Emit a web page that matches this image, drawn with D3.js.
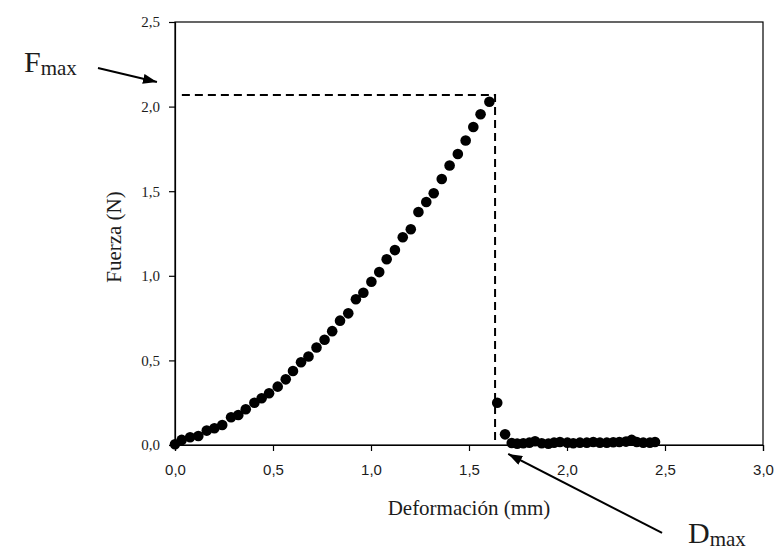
<!DOCTYPE html>
<html>
<head>
<meta charset="utf-8">
<script src="https://cdn.jsdelivr.net/npm/d3@7"></script>
<style>
  body { margin: 0; background: #fff; }
  text { fill: #1c1c1c; }
</style>
</head>
<body>
<div id="chart"></div>
<script>
// deformation (mm) and force (N)
const deformacion = [
  0.000, 0.034, 0.077, 0.119, 0.162, 0.201, 0.241, 0.286, 0.323, 0.361,
  0.405, 0.442, 0.480, 0.524, 0.565, 0.602, 0.643, 0.681, 0.722, 0.763,
  0.802, 0.842, 0.884, 0.923, 0.961, 1.002, 1.042, 1.080, 1.122, 1.162,
  1.203, 1.242, 1.282, 1.320, 1.361, 1.401, 1.443, 1.483, 1.522, 1.559,
  1.604, 1.644, 1.684,
  1.718, 1.746, 1.777, 1.808, 1.837, 1.871, 1.905, 1.934, 1.964, 2.002,
  2.032, 2.066, 2.101, 2.134, 2.168, 2.203, 2.236, 2.267, 2.301, 2.330,
  2.356, 2.389, 2.423, 2.449
]
const fuerza = [
  0.004, 0.030, 0.046, 0.053, 0.085, 0.099, 0.118, 0.164, 0.177, 0.211,
  0.250, 0.276, 0.306, 0.345, 0.388, 0.437, 0.489, 0.523, 0.576, 0.622,
  0.673, 0.735, 0.778, 0.861, 0.900, 0.965, 1.022, 1.098, 1.152, 1.228,
  1.275, 1.377, 1.436, 1.488, 1.572, 1.652, 1.720, 1.800, 1.879, 1.955,
  2.029, 0.250, 0.063,
  0.012, 0.008, 0.010, 0.014, 0.022, 0.010, 0.008, 0.014, 0.018, 0.014,
  0.010, 0.014, 0.014, 0.018, 0.014, 0.014, 0.016, 0.018, 0.020, 0.030,
  0.018, 0.014, 0.014, 0.018
]
const xTicks = [0, 0.5, 1.0, 1.5, 2.0, 2.5, 3.0]
const yTicks = [0, 0.5, 1.0, 1.5, 2.0, 2.5]

// reference lines
const fMax = 2.068
const dMax = 1.633

// arrows in data units: [tail, tip]
const arrowF = [[-0.393, 2.228], [-0.092, 2.145]]
const arrowD = [[2.485, -0.52], [1.70, -0.053]]

const data = deformacion.map((d, i) => ({x: d, y: fuerza[i]}))

const dimensions = {
  width: 777,
  height: 552,
  margin: {top: 22, right: 14, bottom: 107, left: 175}
}
dimensions.boundedWidth = dimensions.width - dimensions.margin.left - dimensions.margin.right
dimensions.boundedHeight = dimensions.height - dimensions.margin.top - dimensions.margin.bottom

const svg = d3.select('#chart')
  .append('svg')
  .attr('width', dimensions.width)
  .attr('height', dimensions.height)

const defs = svg.append('defs')
defs.append('marker')
  .attr('id', 'head')
  .attr('viewBox', '0 0 14 10')
  .attr('refX', 14)
  .attr('refY', 5)
  .attr('markerWidth', 14)
  .attr('markerHeight', 10)
  .attr('markerUnits', 'userSpaceOnUse')
  .attr('orient', 'auto')
  .append('path')
  .attr('d', 'M0,0 L14,5 L0,10 Z')
  .attr('fill', '#000')

const bounds = svg.append('g')
  .attr('transform', `translate(${dimensions.margin.left},${dimensions.margin.top})`)

const xScale = d3.scaleLinear()
  .domain([0, 3])
  .range([0, dimensions.boundedWidth])

const yScale = d3.scaleLinear()
  .domain([0, 2.5])
  .range([dimensions.boundedHeight, 0])

const comma = d => d3.format('.1f')(d).replace('.', ',')

// frame
bounds.append('rect')
  .attr('width', dimensions.boundedWidth)
  .attr('height', dimensions.boundedHeight)
  .attr('fill', 'none')
  .attr('stroke', '#000')
  .attr('stroke-width', 1.2)

// axes
const xAxis = bounds.append('g')
  .attr('transform', `translate(0,${dimensions.boundedHeight})`)
  .call(d3.axisBottom(xScale).tickValues(xTicks).tickFormat(comma).tickSize(6).tickPadding(13))
xAxis.selectAll('text')
  .style('font-family', '"Liberation Sans", Arial, sans-serif')
  .style('font-size', '15px')
  .attr('fill', '#1c1c1c')

const yAxis = bounds.append('g')
  .call(d3.axisLeft(yScale).tickValues(yTicks).tickFormat(comma).tickSize(6).tickPadding(9))
yAxis.selectAll('text')
  .style('font-family', '"Liberation Serif", "Times New Roman", serif')
  .style('font-size', '15px')
  .attr('fill', '#1c1c1c')

svg.selectAll('.domain, .tick line')
  .attr('stroke', '#000')
  .attr('stroke-width', 1.2)

// dashed reference lines at the maximum
bounds.append('path')
  .attr('d', `M${xScale(0.035)},${yScale(fMax)} H${xScale(dMax)} V${yScale(0)}`)
  .attr('fill', 'none')
  .attr('stroke', '#000')
  .attr('stroke-width', 2)
  .attr('stroke-dasharray', '8,5')

// points
bounds.selectAll('circle')
  .data(data)
  .join('circle')
  .attr('cx', d => xScale(d.x))
  .attr('cy', d => yScale(d.y))
  .attr('r', 5.3)
  .attr('fill', '#000')

// axis titles
svg.append('text')
  .attr('x', 469)
  .attr('y', 515)
  .attr('text-anchor', 'middle')
  .style('font-family', '"Liberation Serif", "Times New Roman", serif')
  .style('font-size', '21px')
  .text('Deformación (mm)')

svg.append('text')
  .attr('transform', 'translate(121,237) rotate(-90)')
  .attr('text-anchor', 'middle')
  .style('font-family', '"Liberation Serif", "Times New Roman", serif')
  .style('font-size', '21px')
  .text('Fuerza (N)')

// annotations
const arrowLine = d3.line()
  .x(d => xScale(d[0]))
  .y(d => yScale(d[1]))

;[arrowF, arrowD].forEach(a => {
  bounds.append('path')
    .attr('d', arrowLine(a))
    .attr('stroke', '#000')
    .attr('stroke-width', 2)
    .attr('marker-end', 'url(#head)')
})

const label = (x, y, main, sub) => {
  const t = svg.append('text')
    .attr('x', x)
    .attr('y', y)
    .style('font-family', '"Liberation Serif", "Times New Roman", serif')
  t.append('tspan').style('font-size', '30px').text(main)
  t.append('tspan').style('font-size', '21px').attr('dy', 3).text(sub)
}
label(24, 72, 'F', 'max')
label(688, 543, 'D', 'max')
</script>
</body>
</html>
